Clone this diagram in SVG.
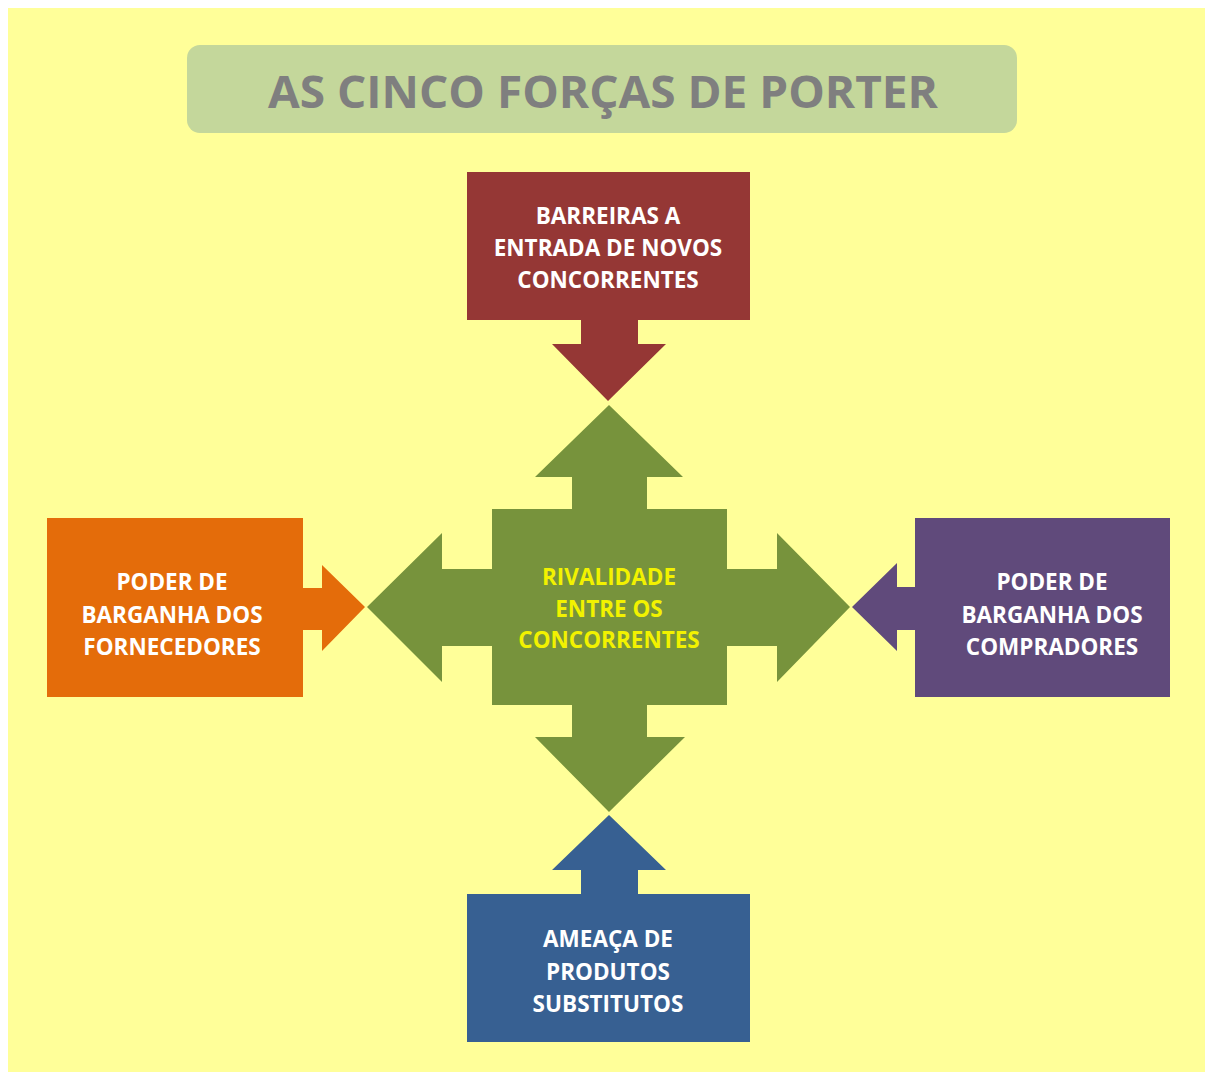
<svg xmlns="http://www.w3.org/2000/svg" width="1208" height="1077" viewBox="0 0 1208 1077">
<style>
.lbl{font-family:"Open Sans","Liberation Sans",sans-serif;font-weight:700;font-size:22.5px;text-anchor:middle;fill:#ffffff}
.ctr{font-family:"Open Sans","Liberation Sans",sans-serif;font-weight:700;font-size:22.5px;text-anchor:middle;fill:#f2f200}
.title{font-family:"Open Sans","Liberation Sans",sans-serif;font-weight:700;font-size:44px;text-anchor:middle;fill:#7f7f7f}
</style>
<rect x="0" y="0" width="1208" height="1077" fill="#ffffff"/>
<rect x="8" y="8" width="1197" height="1064" fill="#ffff99"/>
<g id="title">
<rect x="187" y="45" width="830" height="88" rx="13" fill="#c4d79b"/>
<text class="title" x="603" y="108" textLength="670" lengthAdjust="spacingAndGlyphs">AS CINCO FORÇAS DE PORTER</text>
</g>
<g id="connectors">
<polygon points="581,320 638,320 638,344 666,344 608,401 552,344 581,344" fill="#953735"/>
<polygon points="303,588 322,588 322,565 365,607 322,651 322,630 303,630" fill="#e46c0a"/>
<polygon points="915,587 897,587 897,563 852,607 897,651 897,630 915,630" fill="#604a7b"/>
<polygon points="581,894 638,894 638,870 666,870 609,815 552,870 581,870" fill="#376092"/>
</g>
<g id="rivalidade">
<polygon points="609,405 683,477 647,477 647,509 727,509 727,569 777,569 777,533 850,607 777,682 777,646 727,646 727,705 647,705 647,737 685,737 609,812 535,737 572,737 572,705 492,705 492,646 442,646 442,682 367,607 442,533 442,569 492,569 492,509 572,509 572,477 535,477" fill="#77933c"/>
<text class="ctr" x="609" y="585">RIVALIDADE</text>
<text class="ctr" x="609" y="617">ENTRE OS</text>
<text class="ctr" x="609" y="648">CONCORRENTES</text>
</g>
<g id="barreiras">
<rect x="467" y="172" width="283" height="148" fill="#953735"/>
<text class="lbl" x="608" y="224">BARREIRAS A</text>
<text class="lbl" x="608" y="256">ENTRADA DE NOVOS</text>
<text class="lbl" x="608" y="288">CONCORRENTES</text>
</g>
<g id="fornecedores">
<rect x="47" y="518" width="256" height="179" fill="#e46c0a"/>
<text class="lbl" x="172" y="590">PODER DE</text>
<text class="lbl" x="172" y="623">BARGANHA DOS</text>
<text class="lbl" x="172" y="655">FORNECEDORES</text>
</g>
<g id="compradores">
<rect x="915" y="518" width="255" height="179" fill="#604a7b"/>
<text class="lbl" x="1052" y="590">PODER DE</text>
<text class="lbl" x="1052" y="623">BARGANHA DOS</text>
<text class="lbl" x="1052" y="655">COMPRADORES</text>
</g>
<g id="substitutos">
<rect x="467" y="894" width="283" height="148" fill="#376092"/>
<text class="lbl" x="608" y="947">AMEAÇA DE</text>
<text class="lbl" x="608" y="980">PRODUTOS</text>
<text class="lbl" x="608" y="1012">SUBSTITUTOS</text>
</g>
</svg>
